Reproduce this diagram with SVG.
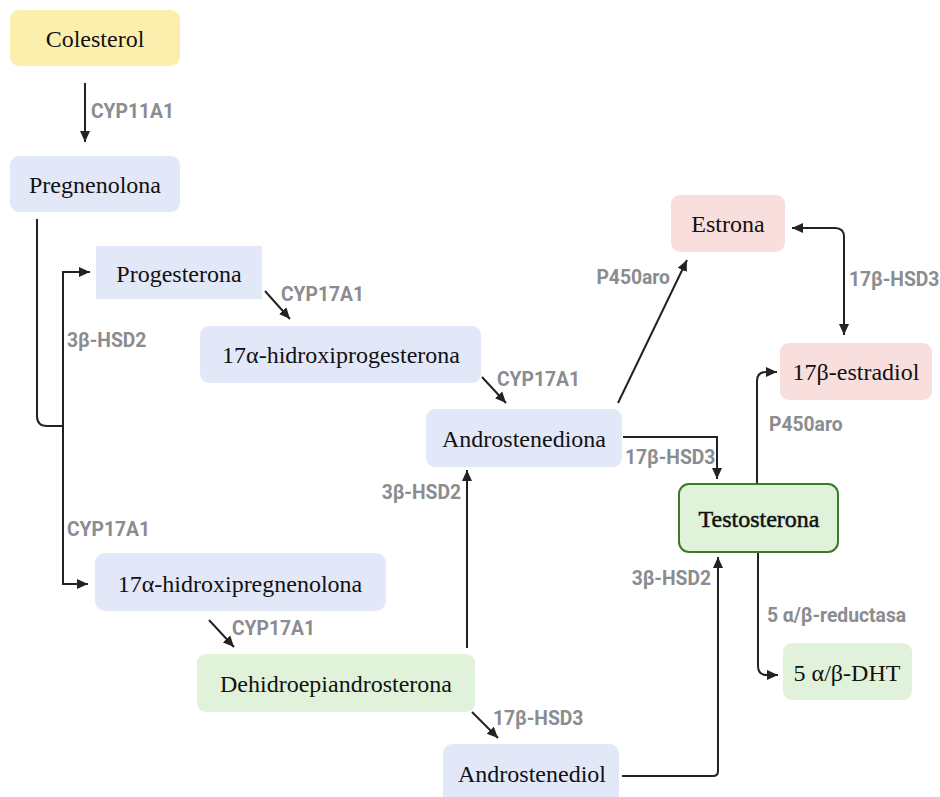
<svg xmlns="http://www.w3.org/2000/svg" width="940" height="797" viewBox="0 0 940 797">
<style>
.n{font-family:"Liberation Serif","DejaVu Serif",serif;font-size:24px;fill:#111;text-anchor:middle}
.l{font-family:Roboto,"Liberation Sans",sans-serif;font-weight:bold;font-size:19.3px;fill:#8a8c8f}
.e{text-anchor:end}
.c{fill:none;stroke:#222;stroke-width:2}
.b{fill:#e3e8f9}
.y{fill:#fcefae}
.p{fill:#f9dede}
.g{fill:#e0f3da}
</style>
<defs>
<marker id="a" markerUnits="userSpaceOnUse" markerWidth="12" markerHeight="12" refX="11" refY="6" orient="auto-start-reverse" viewBox="0 0 12 12">
<path d="M0,1 L11,6 L0,11 z" fill="#222"/>
</marker>
</defs>
<rect width="940" height="797" fill="#fff"/>
<g id="connectors">
<path class="c" d="M85,83 V142" marker-end="url(#a)"/>
<path class="c" d="M37,219 V416 Q37,426 47,426 H63"/>
<path class="c" d="M63,426 V272 H90" marker-end="url(#a)"/>
<path class="c" d="M63,426 V584 H88" marker-end="url(#a)"/>
<path class="c" d="M265,291 L290,319" marker-end="url(#a)"/>
<path class="c" d="M482,377 L506,403" marker-end="url(#a)"/>
<path class="c" d="M618,403 L687,260" marker-end="url(#a)"/>
<path class="c" d="M623,437 H717 V479" marker-end="url(#a)"/>
<path class="c" d="M792,228 H835 Q844,228 844,237 V335" marker-start="url(#a)" marker-end="url(#a)"/>
<path class="c" d="M757,484 V381 Q757,372 766,372 H777" marker-end="url(#a)"/>
<path class="c" d="M758,552 V666 Q758,675 767,675 H778" marker-end="url(#a)"/>
<path class="c" d="M622,776 H713 Q718,776 718,771 V557" marker-end="url(#a)"/>
<path class="c" d="M467,648 V470" marker-end="url(#a)"/>
<path class="c" d="M209,620 L234,647" marker-end="url(#a)"/>
<path class="c" d="M472,712 L498,738" marker-end="url(#a)"/>
<text class="l" x="91" y="118">CYP11A1</text>
<text class="l" x="67" y="347">3β-HSD2</text>
<text class="l" x="281" y="301">CYP17A1</text>
<text class="l" x="497" y="386">CYP17A1</text>
<text class="l e" x="670" y="284">P450aro</text>
<text class="l" x="625" y="464">17β-HSD3</text>
<text class="l" x="849" y="286">17β-HSD3</text>
<text class="l" x="769" y="431">P450aro</text>
<text class="l e" x="711" y="585">3β-HSD2</text>
<text class="l" x="767" y="622">5 α/β-reductasa</text>
<text class="l e" x="461" y="499">3β-HSD2</text>
<text class="l" x="67" y="536">CYP17A1</text>
<text class="l" x="232" y="635">CYP17A1</text>
<text class="l" x="493" y="725">17β-HSD3</text>
</g>
<g id="colesterol"><rect class="y" x="10" y="10" width="170" height="56" rx="9"/><text class="n" x="95" y="47">Colesterol</text></g>
<g id="pregnenolona"><rect class="b" x="10" y="156" width="170" height="56" rx="9"/><text class="n" x="95" y="193">Pregnenolona</text></g>
<g id="progesterona"><rect class="b" x="96" y="246" width="166" height="53"/><text class="n" x="179" y="282">Progesterona</text></g>
<g id="hidroxiprogesterona"><rect class="b" x="200" y="326" width="281" height="57" rx="9"/><text class="n" x="341" y="363">17α-hidroxiprogesterona</text></g>
<g id="androstenediona"><rect class="b" x="426" y="409" width="196" height="58" rx="9"/><text class="n" x="524" y="447">Androstenediona</text></g>
<g id="estrona"><rect class="p" x="671" y="195" width="114" height="57" rx="9"/><text class="n" x="728" y="232">Estrona</text></g>
<g id="estradiol"><rect class="p" x="780" y="343" width="152" height="57" rx="9"/><text class="n" x="856" y="380">17β-estradiol</text></g>
<g id="testosterona"><rect class="g" x="679" y="484" width="159" height="68" rx="10" stroke="#3b7a2a" stroke-width="2"/><text class="n" x="759" y="527" stroke="#111" stroke-width="0.5">Testosterona</text></g>
<g id="dht"><rect class="g" x="783" y="643" width="129" height="57" rx="9"/><text class="n" x="847" y="681">5 α/β-DHT</text></g>
<g id="hidroxipregnenolona"><rect class="b" x="95" y="553" width="291" height="58" rx="10"/><text class="n" x="240" y="592">17α-hidroxipregnenolona</text></g>
<g id="dhea"><rect class="g" x="197" y="654" width="278" height="58" rx="9"/><text class="n" x="336" y="692">Dehidroepiandrosterona</text></g>
<g id="androstenediol"><rect class="b" x="443" y="744" width="176" height="60" rx="9"/><text class="n" x="532" y="782">Androstenediol</text></g>
</svg>
